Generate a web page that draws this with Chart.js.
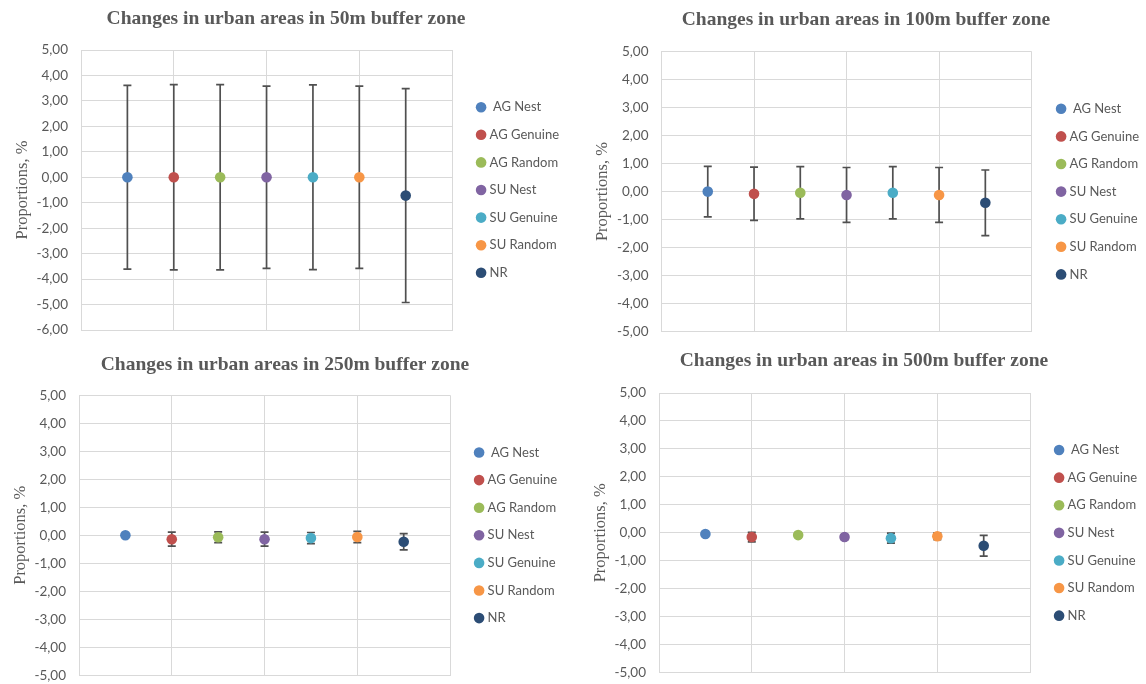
<!DOCTYPE html>
<html>
<head>
<meta charset="utf-8">
<script src="https://cdn.jsdelivr.net/npm/chart.js@4.4.1/dist/chart.umd.min.js"></script>
<style>
  html, body { margin: 0; padding: 0; background: #ffffff; overflow: hidden; }
  #wrap { position: relative; width: 1146px; height: 684px; overflow: hidden; }
  canvas { position: absolute; display: block; }
</style>
</head>
<body>
<div id="wrap"></div>
<script>
// ---------------- DATA ----------------
const categories = [' AG Nest', 'AG Genuine', 'AG Random', 'SU Nest', 'SU Genuine', 'SU Random', 'NR'];
const xPositions = [1, 2, 3, 4, 5, 6, 7];
const seriesColors = ['#4F81BD', '#C0504D', '#9BBB59', '#8064A2', '#4BACC6', '#F79646', '#2C4D75'];

const titles = [
  'Changes in urban areas in 50m buffer zone',
  'Changes in urban areas in 100m buffer zone',
  'Changes in urban areas in 250m buffer zone',
  'Changes in urban areas in 500m buffer zone'
];

const means50  = [0.00, 0.00, 0.00, 0.00, 0.00, 0.00, -0.72];
const errors50 = [3.61, 3.64, 3.64, 3.58, 3.63, 3.58, 4.20];

const means100  = [0.00, -0.08, -0.04, -0.12, -0.04, -0.12, -0.40];
const errors100 = [0.90, 0.95, 0.93, 0.98, 0.93, 0.98, 1.17];

const means250  = [0.00, -0.14, -0.07, -0.14, -0.10, -0.06, -0.23];
const errors250 = [0.05, 0.25, 0.19, 0.25, 0.20, 0.20, 0.29];

const means500  = [-0.04, -0.15, -0.08, -0.15, -0.19, -0.12, -0.46];
const errors500 = [0.03, 0.17, 0.05, 0.08, 0.18, 0.12, 0.37];

const yMins = [-6, -5, -5, -5];
const yMaxs = [5, 5, 5, 5];
const yStep = 1;
const xMin = 0, xMax = 8, xStep = 2;
const yAxisTitle = 'Proportions, %';

// ---------------- LAYOUT (page pixels) ----------------
const layouts = [
  { top: 0,   L: 81,    R: 452,    T: 50,    B: 330,   titleX: 286, titleY: 19,    yTitleX: 22.7,  legendX: 481  },
  { top: 0,   L: 661.5, R: 1031.5, T: 51.5,  B: 331.7, titleX: 866, titleY: 20,    yTitleX: 603,   legendX: 1061 },
  { top: 342, L: 79,    R: 450,    T: 395.3, B: 675.3, titleX: 285, titleY: 364.7, yTitleX: 21,    legendX: 479  },
  { top: 342, L: 659,   R: 1030,   T: 393,   B: 672.7, titleX: 864, titleY: 361.3, yTitleX: 600.7, legendX: 1059 }
];
const panelHeight = 342;

const TEXT = '#595959';
const GRID = '#D9D9D9';
const TICK_FONT = { family: 'Lato', size: 13.5 };
const LEG_FONT = 13, LEG_PAD = 14.6, LEG_BOXW = 4, LEG_BOXH = 7.5;
const TITLE_FONT = { family: 'Liberation Serif', size: 19.5, weight: 'bold' };
const AXIS_TITLE_FONT = { family: 'Liberation Serif', size: 16.5 };

// ---------------- ERROR BARS PLUGIN ----------------
const errorBarsPlugin = {
  id: 'errorBars',
  beforeDatasetsDraw(chart, args, opts) {
    const ctx = chart.ctx;
    const yScale = chart.scales.y;
    ctx.save();
    ctx.strokeStyle = opts.color;
    ctx.lineWidth = opts.width;
    chart.data.datasets.forEach((ds, di) => {
      const meta = chart.getDatasetMeta(di);
      meta.data.forEach((pt, j) => {
        const v = ds.data[j].y;
        const e = ds.errors[j];
        const yTop = yScale.getPixelForValue(v + e);
        const yBot = yScale.getPixelForValue(v - e);
        const x = pt.x;
        ctx.beginPath();
        ctx.moveTo(x, yTop); ctx.lineTo(x, yBot);
        ctx.moveTo(x - opts.cap, yTop); ctx.lineTo(x + opts.cap, yTop);
        ctx.moveTo(x - opts.cap, yBot); ctx.lineTo(x + opts.cap, yBot);
        ctx.stroke();
      });
    });
    ctx.restore();
  }
};

function measureText(text, font) {
  const c = document.createElement('canvas').getContext('2d');
  c.font = font;
  return c.measureText(text).width;
}

function buildPanel(idx, means, errs) {
  const lay = layouts[idx];
  const textW = Math.max(...categories.map(t => measureText(t, LEG_FONT + 'px Lato')));
  const legendLeft = lay.legendX - LEG_BOXW / 2 - LEG_PAD;
  const legendW = LEG_PAD + LEG_BOXW + LEG_FONT / 2 + textW + 10;
  const canvasRight = legendLeft + legendW;
  const canvasLeft = Math.round(2 * lay.titleX - canvasRight);
  const W = Math.round(canvasRight - canvasLeft);
  const H = panelHeight;

  const canvas = document.createElement('canvas');
  canvas.width = W; canvas.height = H;
  canvas.style.width = W + 'px'; canvas.style.height = H + 'px';
  canvas.style.left = canvasLeft + 'px';
  canvas.style.top = lay.top + 'px';
  document.getElementById('wrap').appendChild(canvas);

  const loc = v => v - canvasLeft;
  const Tl = lay.T - lay.top, Bl = lay.B - lay.top, titleYl = lay.titleY - lay.top;
  const titleLH = TITLE_FONT.size * 1.2;
  const tPadTop = titleYl - titleLH / 2;
  const tPadBot = Tl - tPadTop - titleLH;
  const axLH = AXIS_TITLE_FONT.size * 1.2;
  const gapW = legendLeft - lay.R;

  const datasets = categories.map((name, i) => ({
    label: name,
    data: [{ x: xPositions[i], y: means[i] }],
    errors: [errs[i]],
    xAxisID: 'x',
    yAxisID: 'y',
    backgroundColor: seriesColors[i],
    borderColor: seriesColors[i],
    pointBackgroundColor: seriesColors[i],
    pointBorderColor: seriesColors[i],
    pointBorderWidth: 0,
    pointRadius: 5.3,
    pointHoverRadius: 5.3,
    pointStyle: 'circle',
    showLine: false
  }));

  new Chart(canvas, {
    type: 'scatter',
    data: { datasets },
    plugins: [errorBarsPlugin],
    options: {
      responsive: false,
      animation: false,
      devicePixelRatio: 1,
      events: [],
      layout: { padding: { left: 0, right: 0, top: 0, bottom: H - Bl } },
      plugins: {
        errorBars: { color: '#505050', width: 1.7, cap: 4 },
        tooltip: { enabled: false },
        title: {
          display: true,
          text: titles[idx],
          color: TEXT,
          font: TITLE_FONT,
          padding: { top: tPadTop, bottom: tPadBot }
        },
        legend: {
          display: true,
          position: 'right',
          align: 'center',
          fullSize: false,
          labels: {
            usePointStyle: true,
            pointStyle: 'circle',
            boxWidth: LEG_BOXW,
            boxHeight: LEG_BOXH,
            padding: LEG_PAD,
            color: TEXT,
            font: { family: 'Lato', size: LEG_FONT }
          }
        }
      },
      scales: {
        x: {
          type: 'linear',
          position: 'bottom',
          min: xMin, max: xMax,
          ticks: { display: false, stepSize: xStep },
          grid: { color: GRID, lineWidth: 1, drawTicks: false },
          border: { display: true, color: GRID, width: 1 },
          afterFit: s => { s.height = 0; s.paddingLeft = 0; s.paddingRight = 0; }
        },
        y: {
          type: 'linear',
          position: 'left',
          min: yMins[idx], max: yMaxs[idx],
          ticks: {
            stepSize: yStep,
            color: TEXT,
            font: TICK_FONT,
            padding: 13,
            callback: v => Number(v).toFixed(2).replace('.', ',')
          },
          grid: { color: GRID, lineWidth: 1, drawTicks: false },
          border: { display: true, color: GRID, width: 1 },
          title: {
            display: true,
            text: yAxisTitle,
            color: TEXT,
            font: AXIS_TITLE_FONT,
            padding: { top: loc(lay.yTitleX) - axLH / 2, bottom: 0 }
          },
          afterFit: s => { s.width = loc(lay.L); s.paddingTop = 0; s.paddingBottom = 0; }
        },
        gap: {
          type: 'linear',
          position: 'right',
          display: false,
          afterFit: s => { s.width = gapW; }
        }
      }
    }
  });
}

buildPanel(0, means50, errors50);
buildPanel(1, means100, errors100);
buildPanel(2, means250, errors250);
buildPanel(3, means500, errors500);
</script>
</body>
</html>
